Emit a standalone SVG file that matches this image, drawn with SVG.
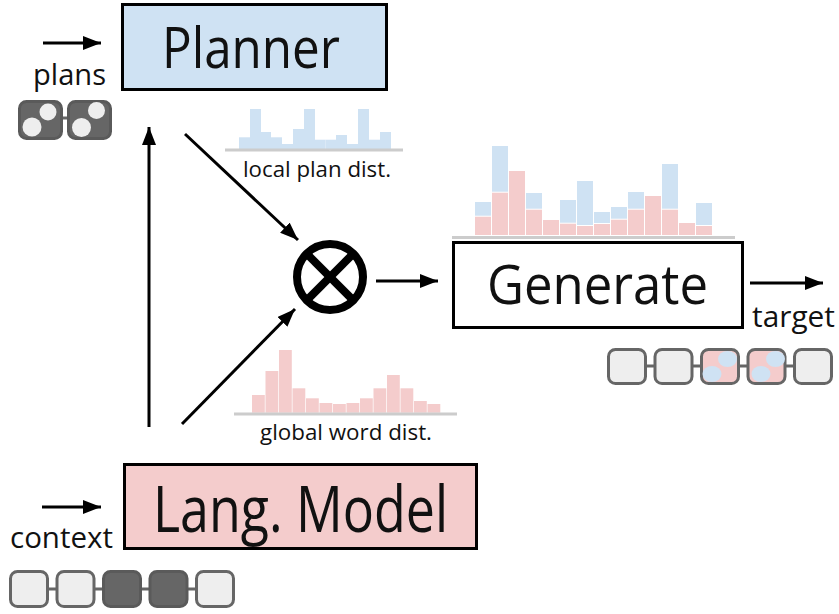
<svg xmlns="http://www.w3.org/2000/svg" width="839" height="614" viewBox="0 0 839 614">
<style>
text{font-family:"Open Sans","Noto Sans","DejaVu Sans",sans-serif;fill:#111;}
.box{stroke:#000;stroke-width:3;}
.big{font-size:57px;}
.lbl{font-size:30px;}
.sm{font-size:21.5px;}
.conn line{stroke:#000;stroke-width:3;}
.tok{fill:#eee;stroke:#666;stroke-width:3;}
.tokd{fill:#666;stroke:#5a5a5a;stroke-width:3;}
.tokp{fill:#f4cccc;stroke:#666;stroke-width:3;}
.link{stroke:#666;stroke-width:3;}
.blue{fill:#cfe2f3;}
.pink{fill:#f4cccc;}
.axis{stroke:#ccc;stroke-width:3;}
.lc{fill:#eee;}
.bc{fill:#cfe2f3;}
</style>
<defs>
<marker id="ah" markerUnits="userSpaceOnUse" markerWidth="19" markerHeight="14" refX="18" refY="7" orient="auto">
<path d="M0,0 L18,7 L0,14 z" fill="#000"/>
</marker>
</defs>

<g id="planner">
<rect class="box" x="122.5" y="4.5" width="264" height="85" fill="#cfe2f3"/>
<text class="big" x="251" y="68" text-anchor="middle" textLength="178" lengthAdjust="spacingAndGlyphs">Planner</text>
</g>

<g id="langmodel">
<rect class="box" x="124.5" y="464.5" width="352" height="84" fill="#f4cccc"/>
<text x="300.5" y="532" text-anchor="middle" font-size="64" textLength="295" lengthAdjust="spacingAndGlyphs">Lang. Model</text>
</g>

<g id="generate">
<rect class="box" x="453.5" y="242.5" width="289" height="85" fill="#fff"/>
<text x="597.5" y="304" text-anchor="middle" font-size="55" textLength="221" lengthAdjust="spacingAndGlyphs">Generate</text>
</g>

<g id="otimes">
<circle cx="330" cy="277" r="33" fill="none" stroke="#000" stroke-width="8"/>
<line x1="306.7" y1="253.7" x2="353.3" y2="300.3" stroke="#000" stroke-width="8"/>
<line x1="353.3" y1="253.7" x2="306.7" y2="300.3" stroke="#000" stroke-width="8"/>
</g>

<g id="plans-input">
<text class="lbl" x="33" y="85" textLength="73" lengthAdjust="spacingAndGlyphs">plans</text>
<line class="link" x1="60" y1="118" x2="70" y2="118"/>
<rect class="tokd" x="19.5" y="101.5" width="42" height="37" rx="7"/>
<rect class="tokd" x="68.5" y="101.5" width="42" height="37" rx="7"/>
<circle class="lc" cx="48" cy="112" r="8.5"/>
<circle class="lc" cx="32" cy="127" r="9.5"/>
<circle class="lc" cx="96.5" cy="110.5" r="8.5"/>
<circle class="lc" cx="81.5" cy="127.5" r="9.5"/>
</g>

<g id="context-input">
<text class="lbl" x="10" y="548" textLength="103" lengthAdjust="spacingAndGlyphs">context</text>
<line class="link" x1="40" y1="589" x2="210" y2="589"/>
<rect class="tok" x="10.5" y="571.5" width="37" height="35" rx="7"/>
<rect class="tok" x="57" y="571.5" width="37" height="35" rx="7"/>
<rect class="tokd" x="103.5" y="571.5" width="37" height="35" rx="7"/>
<rect class="tokd" x="150" y="571.5" width="37" height="35" rx="7"/>
<rect class="tok" x="196.5" y="571.5" width="37" height="35" rx="7"/>
</g>

<g id="target-output">
<text class="lbl" x="752" y="327" textLength="83" lengthAdjust="spacingAndGlyphs">target</text>
<line class="link" x1="640" y1="366" x2="800" y2="366"/>
<rect class="tok" x="608.5" y="349.5" width="37" height="34" rx="7"/>
<rect class="tok" x="655" y="349.5" width="37" height="34" rx="7"/>
<rect class="tokp" x="701.5" y="349.5" width="37" height="34" rx="7"/>
<rect class="tokp" x="748" y="349.5" width="37" height="34" rx="7"/>
<rect class="tok" x="794.5" y="349.5" width="37" height="34" rx="7"/>
<ellipse class="bc" cx="727.5" cy="359" rx="9.5" ry="8"/>
<ellipse class="bc" cx="712" cy="374" rx="9.5" ry="8"/>
<ellipse class="bc" cx="775.5" cy="359" rx="9.5" ry="8"/>
<ellipse class="bc" cx="761" cy="374" rx="9.5" ry="8"/>
</g>

<g id="local-plan-dist">
<g class="blue">
<rect x="239" y="137.3" width="11" height="12"/>
<rect x="250" y="109" width="11" height="40.3"/>
<rect x="261" y="132" width="10" height="17.3"/>
<rect x="271" y="137.3" width="11" height="12"/>
<rect x="282" y="144" width="11" height="5.3"/>
<rect x="293" y="129" width="11" height="20.3"/>
<rect x="304" y="109" width="11" height="40.3"/>
<rect x="315" y="139.7" width="10.5" height="9.6"/>
<rect x="325.5" y="139.7" width="10.5" height="9.6"/>
<rect x="336" y="135" width="11" height="14.3"/>
<rect x="347" y="144" width="11" height="5.3"/>
<rect x="358" y="109" width="11" height="40.3"/>
<rect x="369" y="139.7" width="11" height="9.6"/>
<rect x="380" y="132" width="11" height="17.3"/>
</g>
<line class="axis" x1="225" y1="150" x2="403" y2="150"/>
<text class="sm" x="243" y="177" textLength="148" lengthAdjust="spacingAndGlyphs">local plan dist.</text>
</g>

<g id="global-word-dist">
<g class="pink">
<rect x="252" y="395" width="12.8" height="17.7"/>
<rect x="265.5" y="371" width="12.8" height="41.7"/>
<rect x="279" y="350" width="12.8" height="62.7"/>
<rect x="292.5" y="388.3" width="12.8" height="24.4"/>
<rect x="306" y="398.3" width="12.8" height="14.4"/>
<rect x="319.5" y="403" width="12.8" height="9.7"/>
<rect x="333" y="404" width="12.8" height="8.7"/>
<rect x="346.5" y="403" width="12.8" height="9.7"/>
<rect x="360" y="398.3" width="12.8" height="14.4"/>
<rect x="373.5" y="388.3" width="12.8" height="24.4"/>
<rect x="387" y="375" width="12.8" height="37.7"/>
<rect x="400.5" y="388.3" width="12.8" height="24.4"/>
<rect x="414" y="401" width="12.8" height="11.7"/>
<rect x="427.5" y="404" width="12.8" height="8.7"/>
</g>
<line class="axis" x1="234" y1="414" x2="457" y2="414"/>
<text class="sm" x="260" y="440" textLength="172" lengthAdjust="spacingAndGlyphs">global word dist.</text>
</g>

<g id="mixed-dist">
<g class="blue">
<rect x="475" y="202" width="16" height="13.7"/>
<rect x="492" y="146" width="16" height="45.7"/>
<rect x="526" y="193" width="16" height="15.7"/>
<rect x="560" y="200" width="16" height="22.7"/>
<rect x="577" y="181" width="16" height="44"/>
<rect x="594" y="212" width="16" height="11"/>
<rect x="611" y="207" width="16" height="11.7"/>
<rect x="628" y="192" width="16" height="16.7"/>
<rect x="662" y="164" width="16" height="44.7"/>
<rect x="696" y="203" width="16" height="22"/>
</g>
<g class="pink">
<rect x="475" y="216.7" width="16" height="18.3"/>
<rect x="492" y="192.7" width="16" height="42.3"/>
<rect x="509" y="171" width="16" height="64"/>
<rect x="526" y="209.7" width="16" height="25.3"/>
<rect x="543" y="220" width="16" height="15"/>
<rect x="560" y="223.7" width="16" height="11.3"/>
<rect x="577" y="226" width="16" height="9"/>
<rect x="594" y="224" width="16" height="11"/>
<rect x="611" y="219.7" width="16" height="15.3"/>
<rect x="628" y="209.7" width="16" height="25.3"/>
<rect x="645" y="196" width="16" height="39"/>
<rect x="662" y="209.7" width="16" height="25.3"/>
<rect x="679" y="223" width="16" height="12"/>
<rect x="696" y="226" width="16" height="9"/>
</g>
<line class="axis" x1="452" y1="237.5" x2="735" y2="237.5"/>
</g>

<g id="connectors" class="conn">
<line x1="43" y1="43" x2="101" y2="43" marker-end="url(#ah)"/>
<line x1="42" y1="507" x2="101" y2="507" marker-end="url(#ah)"/>
<line x1="149" y1="427" x2="149" y2="127" marker-end="url(#ah)"/>
<line x1="185" y1="134" x2="298" y2="240" marker-end="url(#ah)"/>
<line x1="182" y1="424" x2="295" y2="309" marker-end="url(#ah)"/>
<line x1="376" y1="281" x2="438" y2="281" marker-end="url(#ah)"/>
<line x1="750" y1="283" x2="823" y2="283" marker-end="url(#ah)"/>
</g>
</svg>
